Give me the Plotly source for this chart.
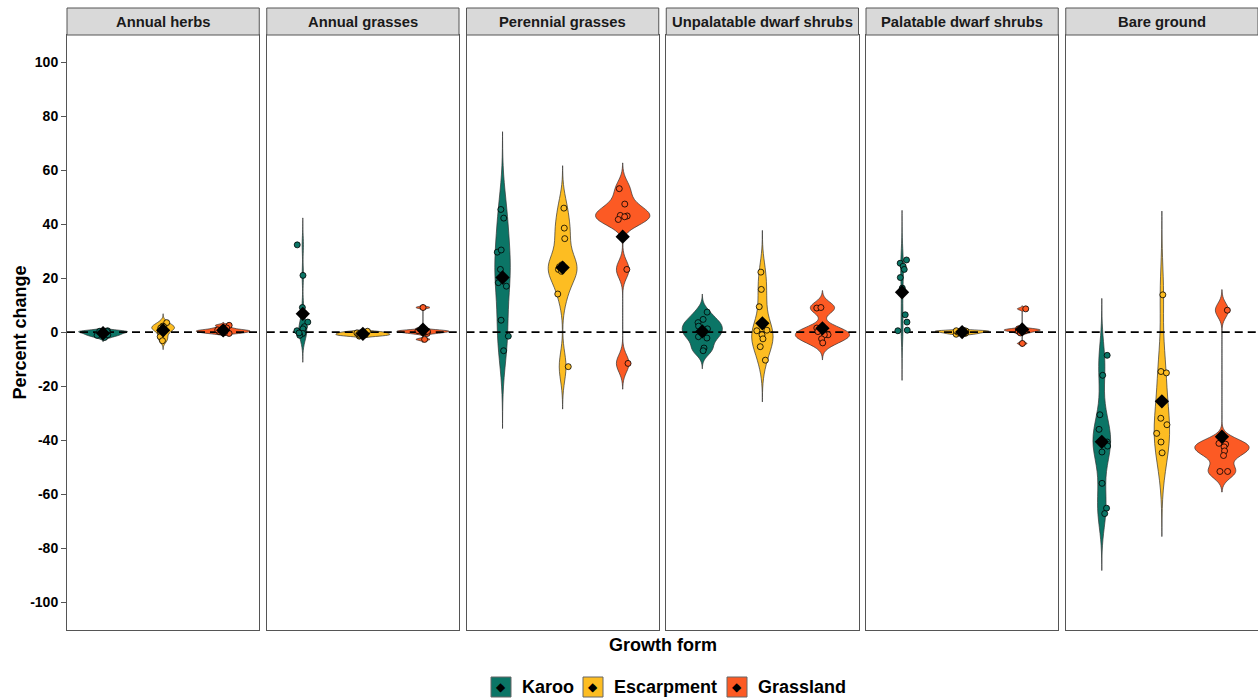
import numpy as np
import plotly.graph_objects as go

# ---------------- data ----------------
categories = ["Annual herbs", "Annual grasses", "Perennial grasses",
              "Unpalatable dwarf shrubs", "Palatable dwarf shrubs", "Bare ground"]
regions = ["Karoo", "Escarpment", "Grassland"]
colors = ["#0B7566", "#FDBD22", "#FC5A24"]
y_ticks = [-100, -80, -60, -40, -20, 0, 20, 40, 60, 80, 100]

karoo = [
    [-2.0, -1.0, 0.0, 0.3, -0.5, 0.5, -1.2, 0.2],
    [32.3, 21.0, 9.1, 3.7, 2.0, 1.2, -0.5, -1.2, 0.5, -0.3],
    [45.4, 42.2, 29.6, 30.4, 23.2, 18.3, 17.0, 4.4, -1.5, -6.9],
    [7.4, 4.7, 3.5, 2.2, 1.2, 0.0, -1.7, -2.2, -5.9, -6.9],
    [26.7, 25.5, 24.4, 23.2, 20.2, 16.3, 6.4, 3.7, 0.5, 0.7],
    [-8.6, -16.0, -30.6, -36.0, -40.7, -40.2, -42.2, -44.4, -56.0, -65.2, -67.2],
]
escarpment = [
    [3.5, 2.2, 1.5, 0.0, -1.7, -3.2, 1.0, 2.0],
    [-1.0, -1.5, -0.5, -0.3, 0.0, -0.8, -1.2, 0.3],
    [45.9, 38.5, 34.6, 23.2, 24.9, 24.2, 22.5, 14.1, -12.8],
    [22.2, 15.8, 9.4, 0.5, 0.7, -1.0, -2.5, -5.4, -10.4],
    [-0.8, -0.5, -0.2, 0.0, 0.2, 0.4, 0.5, 0.6],
    [13.8, -14.6, -15.1, -31.9, -34.3, -37.5, -40.7, -44.7],
]
grassland = [
    [2.5, 1.5, 0.7, -0.5, 0.3, 0.2, -0.2, 0.8],
    [9.1, -0.5, -2.7, 0.2, 0.5, 0.8, -0.2, 0.3],
    [53.1, 47.4, 43.2, 43.0, 42.7, 41.7, 23.2, -11.6],
    [8.9, 9.1, 1.5, 0.2, -1.0, -1.0, -2.5, -4.0],
    [8.6, -4.2, 0.5, 1.0, 1.2, 0.8, 0.3, -0.3],
    [8.1, -41.2, -41.5, -42.5, -44.0, -45.7, -51.6, -51.6],
]
series = [karoo, escarpment, grassland]

# ---------------- helpers ----------------
def nrd0(x):
    x = np.asarray(x, float)
    hi = np.std(x, ddof=1)
    q1, q3 = np.percentile(x, [25, 75])
    lo = min(hi, (q3 - q1) / 1.34)
    if lo == 0:
        lo = hi or abs(x[0]) or 1.0
    return 0.9 * lo * len(x) ** -0.2


def max_density(x, bw):
    x = np.asarray(x, float)
    grid = np.linspace(x.min() - 3 * bw, x.max() + 3 * bw, 512)
    d = np.exp(-0.5 * ((grid[:, None] - x[None, :]) / bw) ** 2).sum(1)
    d /= (len(x) * bw * np.sqrt(2 * np.pi))
    return d.max()


# ---------------- layout geometry ----------------
W, H = 1258, 700
ML, MR, MT, MB = 67, 0, 35, 70
PW, PH = W - ML - MR, H - MT - MB
GAP = 7.5
pw = (PW - 5 * GAP) / 6
XR = [0.4, 3.6]
YR = [-110.3, 110]
FONT = "Liberation Sans, Arial, sans-serif"
BORDER = "#555555"

def px_x(p):
    return (p - ML) / PW

def px_y(p):
    return (H - MB - p) / PH

fig = go.Figure()
rng = np.random.default_rng(7)

for i, cat in enumerate(categories):
    ax = "" if i == 0 else str(i + 1)
    bws = [nrd0(s[i]) for s in series]
    dmax = [max_density(s[i], b) for s, b in zip(series, bws)]
    pmax = max(dmax)
    # violins
    for g, s in enumerate(series):
        v = np.asarray(s[i], float)
        bw = bws[g]
        fig.add_trace(go.Violin(
            x=[g + 1] * len(v), y=v, xaxis="x" + ax, yaxis="y" + ax,
            width=0.9 * dmax[g] / pmax, scalemode="width",
            bandwidth=bw, spanmode="manual",
            span=[v.min() - 3 * bw, v.max() + 3 * bw],
            fillcolor=colors[g], line=dict(color="#333333", width=0.7),
            opacity=1, points=False, box_visible=False, meanline_visible=False,
            showlegend=False, hoverinfo="skip"))
    # zero reference line
    fig.add_trace(go.Scatter(
        x=XR, y=[0, 0], mode="lines", xaxis="x" + ax, yaxis="y" + ax,
        line=dict(color="black", width=1.6, dash="8px,5px"),
        showlegend=False, hoverinfo="skip"))
    # jittered points and means
    for g, s in enumerate(series):
        v = np.asarray(s[i], float)
        jit = rng.uniform(-0.1, 0.1, len(v))
        fig.add_trace(go.Scatter(
            x=g + 1 + jit, y=v, mode="markers", xaxis="x" + ax, yaxis="y" + ax,
            marker=dict(size=6, color=colors[g], line=dict(color="black", width=0.8)),
            showlegend=False))
    for g, s in enumerate(series):
        fig.add_trace(go.Scatter(
            x=[g + 1], y=[float(np.mean(s[i]))], mode="markers",
            xaxis="x" + ax, yaxis="y" + ax,
            marker=dict(size=11, symbol="diamond", color="black"),
            showlegend=False))

    d0 = (i * (pw + GAP)) / PW
    d1 = (i * (pw + GAP) + pw) / PW
    fig.layout["xaxis" + ax] = dict(
        domain=[d0, d1], range=XR, anchor="y" + ax,
        showticklabels=False, ticks="", showgrid=False, zeroline=False,
        showline=True, mirror=True, linecolor=BORDER, linewidth=1)
    ydict = dict(
        range=YR, anchor="x" + ax, showgrid=False, zeroline=False,
        showline=True, mirror=True, linecolor=BORDER, linewidth=1)
    if i == 0:
        ydict.update(tickvals=y_ticks, ticktext=[str(t) for t in y_ticks],
                     ticks="outside", ticklen=5, tickcolor=BORDER,
                     tickfont=dict(family=FONT, size=14, color="black", weight="bold"))
    else:
        ydict.update(showticklabels=False, ticks="", matches="y")
    fig.layout["yaxis" + ax] = ydict

    # strip
    fig.add_shape(type="rect", xref="paper", yref="paper",
                  x0=d0, x1=d1, y0=1.0, y1=1 + 27 / PH,
                  fillcolor="#D9D9D9", line=dict(color=BORDER, width=1), layer="above")
    fig.add_annotation(text=cat, xref="paper", yref="paper",
                       x=(d0 + d1) / 2, y=1 + 13.5 / PH, showarrow=False,
                       xanchor="center", yanchor="middle",
                       font=dict(family=FONT, size=14.8, color="#1a1a1a", weight="bold"))

# axis titles
fig.add_annotation(text="Percent change", xref="paper", yref="paper",
                   x=px_x(19), y=0.5, textangle=-90, showarrow=False,
                   xanchor="center", yanchor="middle",
                   font=dict(family=FONT, size=18, color="black", weight="bold"))
fig.add_annotation(text="Growth form", xref="paper", yref="paper",
                   x=px_x(663), y=px_y(645), showarrow=False,
                   xanchor="center", yanchor="middle",
                   font=dict(family=FONT, size=18, color="black", weight="bold"))

# legend (manual)
key_left = [491, 583, 727]
for g, name in enumerate(regions):
    x0 = key_left[g]
    fig.add_shape(type="rect", xref="paper", yref="paper",
                  x0=px_x(x0), x1=px_x(x0 + 20), y0=px_y(697), y1=px_y(677),
                  fillcolor=colors[g], line=dict(color="#666666", width=1))
    fig.add_annotation(text="◆", xref="paper", yref="paper",
                       x=px_x(x0 + 10), y=px_y(687), showarrow=False,
                       xanchor="center", yanchor="middle",
                       font=dict(family="DejaVu Sans", size=12, color="black"))
    fig.add_annotation(text=name, xref="paper", yref="paper",
                       x=px_x(x0 + 29), y=px_y(687), showarrow=False,
                       xanchor="left", yanchor="middle",
                       font=dict(family=FONT, size=18, color="black", weight="bold"))

fig.update_layout(
    width=W, height=H, margin=dict(l=ML, r=MR, t=MT, b=MB),
    paper_bgcolor="white", plot_bgcolor="white",
    violinmode="overlay", showlegend=False,
    font=dict(family=FONT))

fig.write_html("out.html",
               config={"displayModeBar": False},
               post_script="document.body.style.margin='0px';"
                           "document.body.style.overflow='hidden';")
